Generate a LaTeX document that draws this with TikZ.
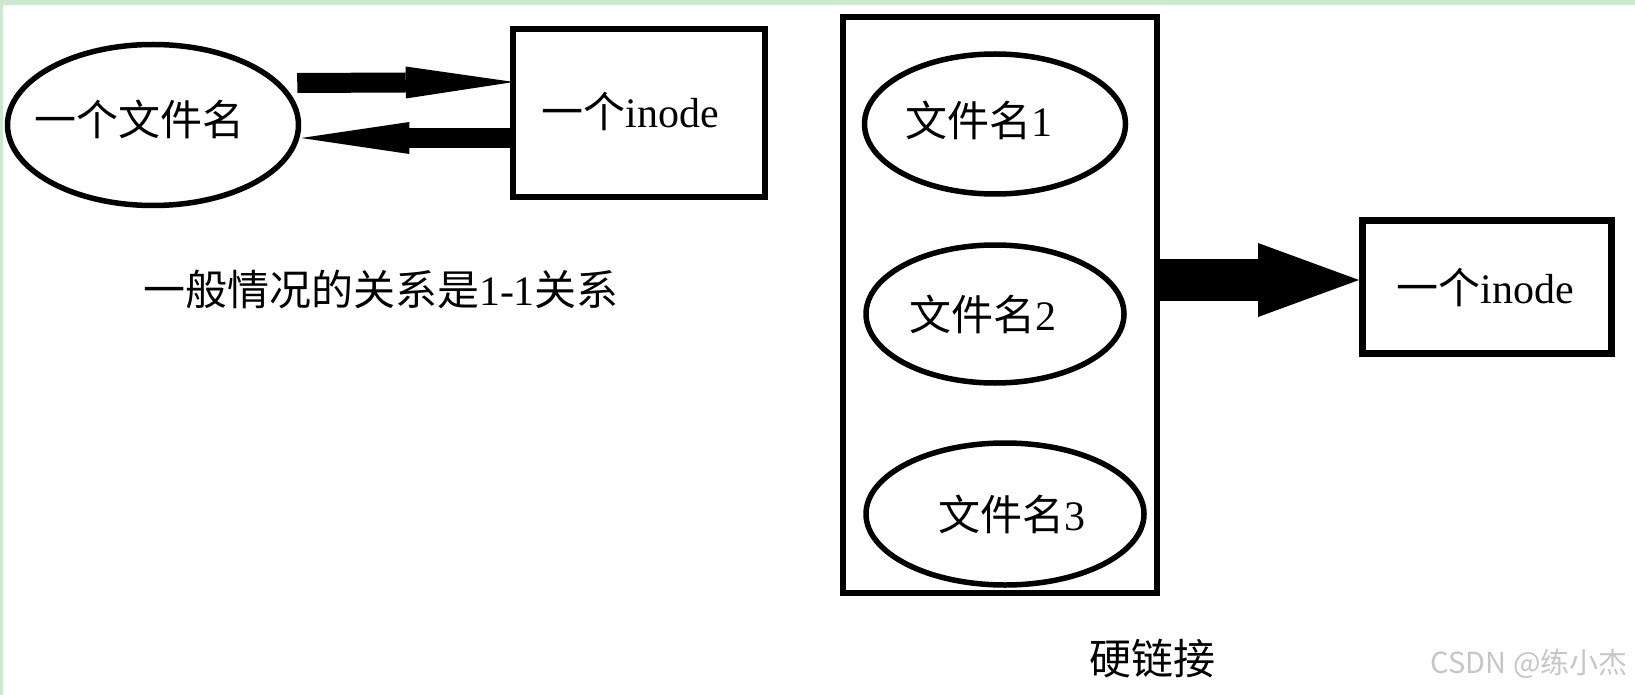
\documentclass[tikz,border=0pt]{standalone}
\usepackage{fontspec}
\setmainfont{Liberation Serif}
\newfontfamily\cjk{Noto Sans CJK SC}
\usetikzlibrary{shapes.geometric,arrows.meta}

\newcommand{\txtsize}{\fontsize{42}{48}\selectfont}
\newcommand{\marksize}{\fontsize{29}{32}\selectfont}
\definecolor{frame}{RGB}{206,232,208}

\begin{document}
\begin{tikzpicture}[x=1pt, y=-1pt, font=\txtsize,
    fname/.style={draw, ellipse, line width=5.5pt, inner sep=0pt},
    inobox/.style={draw, rectangle, line width=6.5pt, inner sep=0pt},
    thinflow/.style={line width=20pt, -{Triangle[length=108pt,width=32pt,line width=0pt]}},
    fatflow/.style={line width=42pt, -{Triangle[length=101pt,width=74pt,line width=0pt]}}]
    \useasboundingbox (0,0) rectangle (1635,695);
    \fill[frame] (0,0) rectangle (1635,5);
    \fill[frame] (0,0) rectangle (3,695);

    % One name, one inode.
    \node[fname, minimum width=291pt, minimum height=161pt,
        label={[xshift=-14pt,yshift=6pt]center:{\cjk 一个文件名}}] (one) at (153,125) {};
    \node[inobox, minimum width=252pt, minimum height=168pt,
        label={[xshift=-9pt,yshift=2pt]center:{\cjk 一个}inode}] (ino) at (639,113) {};
    \node (rel) at (381,290) {{\cjk 一般情况的关系是}1-1{\cjk 关系}};

    % Hard link group.
    \node[inobox, minimum width=314pt, minimum height=576pt] (group) at (1000,305) {};
    \node[fname, minimum width=261pt, minimum height=140pt,
        label={[xshift=-16pt,yshift=4pt]center:{\cjk 文件名}1}] (fn1) at (995,124) {};
    \node[fname, minimum width=258pt, minimum height=138pt,
        label={[xshift=-12pt]center:{\cjk 文件名}2}] (fn2) at (995,314) {};
    \node[fname, minimum width=278pt, minimum height=142pt,
        label={[xshift=7pt]center:{\cjk 文件名}3}] (fn3) at (1005,514) {};
    \node[inobox, line width=7pt, minimum width=249pt, minimum height=133pt,
        label={[xshift=-2pt]center:{\cjk 一个}inode}] (inotwo) at (1487,287) {};
    \node (hard) at (1152,659) {\cjk 硬链接};
    \node[anchor=east, text=gray!45] (mark) at (1631,664) {\cjk\marksize CSDN @练小杰};

    % Arrows.
    \draw [thinflow] ([xshift=-4pt,yshift=42pt]one.east) -- ([xshift=4pt,yshift=31pt]ino.west);
    \draw [thinflow] ([yshift=-25pt]ino.west) -- ([yshift=-13pt]one.east);
    \draw [fatflow] ([yshift=25pt]group.east) -- ([yshift=25pt]group.east -| inotwo.west);

\end{tikzpicture}
\end{document}
